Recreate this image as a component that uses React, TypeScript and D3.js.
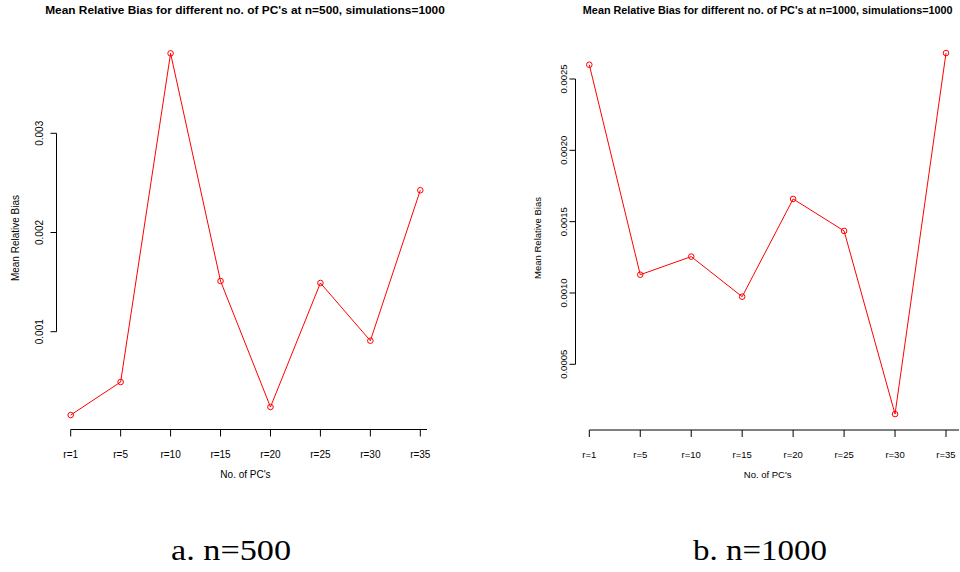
import React, { useLayoutEffect, useRef } from "react";
import * as d3 from "d3";

const categories = ["r=1", "r=5", "r=10", "r=15", "r=20", "r=25", "r=30", "r=35"];
const biasN500 = [0.00016, 0.000493, 0.003806, 0.001511, 0.000241, 0.001491, 0.000909, 0.002426];
const biasN1000 = [0.0026, 0.001128, 0.001255, 0.000974, 0.001659, 0.001435, 0.000151, 0.002682];
const ticksN500 = [0.001, 0.002, 0.003];
const ticksN1000 = [0.0005, 0.001, 0.0015, 0.002, 0.0025];
const tickLabelsN500 = ["0.001", "0.002", "0.003"];
const tickLabelsN1000 = ["0.0005", "0.0010", "0.0015", "0.0020", "0.0025"];

const FONT = "'Liberation Sans', Arial, sans-serif";
const SERIF = "'Liberation Serif', 'DejaVu Serif', serif";

function FitText(props: {
  x: number;
  y: number;
  width: number;
  fontSize: number;
  fontFamily: string;
  fontWeight?: string;
  children: string;
}) {
  const ref = useRef<SVGTextElement>(null);
  useLayoutEffect(() => {
    const el = ref.current;
    if (!el) return;
    const w = el.getComputedTextLength();
    const s = w > 0 ? props.width / w : 1;
    el.setAttribute("transform", `translate(${props.x},${props.y}) scale(${s},1)`);
  });
  return (
    <text
      ref={ref}
      transform={`translate(${props.x},${props.y})`}
      textAnchor="middle"
      fontSize={props.fontSize}
      fontFamily={props.fontFamily}
      fontWeight={props.fontWeight}
      fill="#000"
    >
      {props.children}
    </text>
  );
}

type PanelProps = {
  title: string;
  titleX: number;
  titleW: number;
  values: number[];
  ticks: number[];
  tickLabels: string[];
  xRange: [number, number];
  yDomain: [number, number];
  yRange: [number, number];
  yAxisX: number;
  xAxisY: number;
  xAxisEnd: number;
  yLabelX: number;
  yTickLabelX: number;
  fontSize: number;
};

function Panel(p: PanelProps) {
  const x = d3.scalePoint<string>().domain(categories).range(p.xRange);
  const y = d3.scaleLinear().domain(p.yDomain).range(p.yRange);
  const line = d3
    .line<number>()
    .x((_, i) => x(categories[i]) as number)
    .y((d) => y(d));
  const yTop = y(p.ticks[p.ticks.length - 1]);
  const yBot = y(p.ticks[0]);
  const xMid = (p.xRange[0] + p.xRange[1]) / 2;
  return (
    <g fontFamily={FONT}>
      <FitText x={p.titleX} y={14} width={p.titleW} fontSize={11.5} fontFamily={FONT} fontWeight="bold">
        {p.title}
      </FitText>
      {/* y axis */}
      <line x1={p.yAxisX} x2={p.yAxisX} y1={yTop} y2={yBot} stroke="#000" strokeWidth={1} />
      {p.ticks.map((t, i) => (
        <g key={i}>
          <line x1={p.yAxisX - 6} x2={p.yAxisX} y1={y(t)} y2={y(t)} stroke="#000" />
          <text
            transform={`translate(${p.yTickLabelX},${y(t)}) rotate(-90)`}
            textAnchor="middle"
            dominantBaseline="central"
            fontSize={p.fontSize}
          >
            {p.tickLabels[i]}
          </text>
        </g>
      ))}
      <text
        transform={`translate(${p.yLabelX},238) rotate(-90)`}
        textAnchor="middle"
        dominantBaseline="central"
        fontSize={p.fontSize}
      >
        Mean Relative Bias
      </text>
      {/* x axis */}
      <line x1={p.xRange[0]} x2={p.xAxisEnd} y1={p.xAxisY} y2={p.xAxisY} stroke="#000" />
      {categories.map((c) => (
        <g key={c}>
          <line x1={x(c)} x2={x(c)} y1={p.xAxisY} y2={p.xAxisY + 7} stroke="#000" />
          <text x={x(c)} y={454} textAnchor="middle" dominantBaseline="central" fontSize={p.fontSize}>
            {c}
          </text>
        </g>
      ))}
      <text x={xMid} y={474.5} textAnchor="middle" dominantBaseline="central" fontSize={p.fontSize}>
        No. of PC's
      </text>
      {/* data */}
      <path d={line(p.values) || ""} fill="none" stroke="#ff0000" strokeWidth={1} />
      {p.values.map((v, i) => (
        <circle
          key={i}
          cx={x(categories[i])}
          cy={y(v)}
          r={2.8}
          fill="none"
          stroke="#ff0000"
          strokeWidth={1}
        />
      ))}
    </g>
  );
}

export default function App() {
  return (
    <svg
      width={960}
      height={572}
      style={{ position: "absolute", left: 0, top: 0, background: "#fff" }}
    >
      <rect x={0} y={0} width={960} height={572} fill="#fff" />
      <Panel
        title="Mean Relative Bias for different no. of PC's at n=500, simulations=1000"
        titleX={245}
        titleW={400}
        values={biasN500}
        ticks={ticksN500}
        tickLabels={tickLabelsN500}
        xRange={[70.7, 420.3]}
        yDomain={[0.001, 0.003]}
        yRange={[331.7, 133.3]}
        yAxisX={56.5}
        xAxisY={429.5}
        xAxisEnd={427}
        yLabelX={15}
        yTickLabelX={39}
        fontSize={10}
      />
      <Panel
        title="Mean Relative Bias for different no. of PC's at n=1000, simulations=1000"
        titleX={767.7}
        titleW={370}
        values={biasN1000}
        ticks={ticksN1000}
        tickLabels={tickLabelsN1000}
        xRange={[589.3, 946]}
        yDomain={[0.0005, 0.0025]}
        yRange={[364.3, 79]}
        yAxisX={575.5}
        xAxisY={430}
        xAxisEnd={959}
        yLabelX={537}
        yTickLabelX={563}
        fontSize={9.5}
      />
      <FitText x={231} y={560} width={120} fontSize={29} fontFamily={SERIF}>
        a. n=500
      </FitText>
      <FitText x={760} y={560} width={134} fontSize={29} fontFamily={SERIF}>
        b. n=1000
      </FitText>
    </svg>
  );
}
